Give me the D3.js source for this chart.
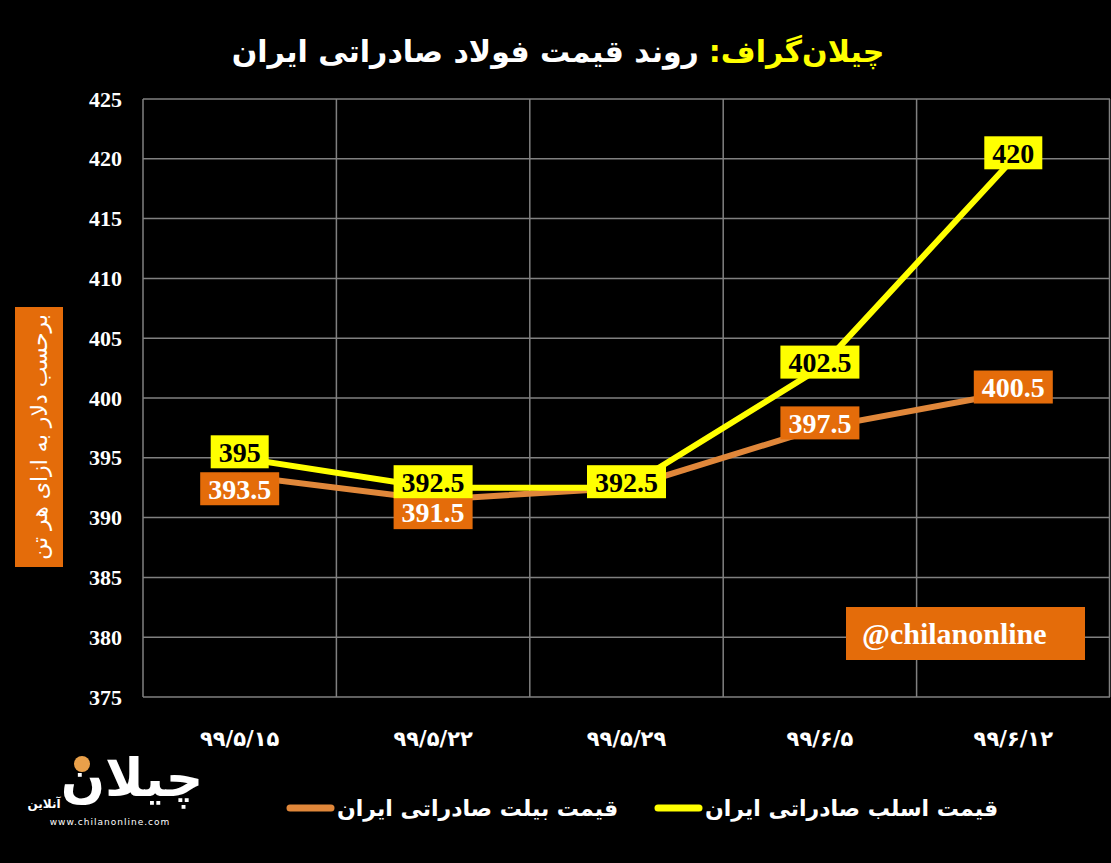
<!DOCTYPE html>
<html>
<head>
<meta charset="utf-8">
<script src="https://cdn.jsdelivr.net/npm/d3@7"></script>
<style>
  html, body { margin: 0; padding: 0; background: #000; }
  svg { display: block; }
</style>
</head>
<body>
<div id="chart"></div>
<script>
// data
const dates = ['۹۹/۵/۱۵', '۹۹/۵/۲۲', '۹۹/۵/۲۹', '۹۹/۶/۵', '۹۹/۶/۱۲'];
const slab = [395, 392.5, 392.5, 402.5, 420];
const billet = [393.5, 391.5, 392.5, 397.5, 400.5];
const yTicks = [375, 380, 385, 390, 395, 400, 405, 410, 415, 420, 425];
const seriesNames = ['قیمت اسلب صادراتی ایران', 'قیمت بیلت صادراتی ایران'];
const titleBrand = 'چیلان‌گراف:';
const titleMain = 'روند قیمت فولاد صادراتی ایران';
const yLabel = 'برحسب دلار به ازای هر تن';
const handle = '@chilanonline';

const W = 1111, H = 863;
const m = { top: 99, right: 1, bottom: 166, left: 143 };
const FA = '"DejaVu Sans", sans-serif';
const SERIF = '"Liberation Serif", "DejaVu Serif", serif';
const ORANGE = '#e46c0a';

const svg = d3.select('#chart').append('svg')
  .attr('width', W).attr('height', H)
  .style('background', '#000');

const x = d3.scaleBand().domain(dates).range([m.left, W - m.right]);
const y = d3.scaleLinear().domain([375, 425]).range([H - m.bottom, m.top]);
const cx = (d) => x(d) + x.bandwidth() / 2;

/// grid
const grid = svg.append('g').attr('stroke', '#808080').attr('stroke-width', 1.5);
grid.selectAll('line.h').data(yTicks).enter().append('line')
  .attr('x1', m.left).attr('x2', W - m.right)
  .attr('y1', (d) => y(d)).attr('y2', (d) => y(d));
grid.selectAll('line.v').data(dates.concat([null])).enter().append('line')
  .attr('x1', (d) => d ? x(d) : W - m.right - 0.5)
  .attr('x2', (d) => d ? x(d) : W - m.right - 0.5)
  .attr('y1', m.top).attr('y2', H - m.bottom);

/// y axis labels
const yAxis = svg.append('g')
  .attr('transform', `translate(${m.left},0)`)
  .call(d3.axisLeft(y).tickValues(yTicks).tickSize(0).tickPadding(21));
yAxis.select('.domain').remove();
yAxis.selectAll('text')
  .attr('fill', '#fff')
  .style('font-family', SERIF)
  .style('font-weight', 'bold')
  .style('font-size', '22px');

/// x axis labels
svg.append('g').selectAll('text').data(dates).enter().append('text')
  .attr('x', cx).attr('y', 746)
  .attr('text-anchor', 'middle')
  .attr('fill', '#fff')
  .style('font-family', FA)
  .style('font-weight', 'bold')
  .style('font-size', '21px')
  .text((d) => d);

/// lines
const line = (vals) => d3.line().x((_, i) => cx(dates[i])).y((d) => y(d))(vals);
svg.append('path').attr('d', line(billet))
  .attr('fill', 'none').attr('stroke', '#e0873a').attr('stroke-width', 6);
svg.append('path').attr('d', line(slab))
  .attr('fill', 'none').attr('stroke', '#ffff00').attr('stroke-width', 6);

/// data labels (billet label is hidden where it sits under the slab one)
const drawLabels = (vals, fill, color, dyAt, skip) => {
  const g = svg.append('g');
  vals.forEach((v, i) => {
    if (skip && skip(v, i)) return;
    const lg = g.append('g')
      .attr('transform', `translate(${cx(dates[i])},${y(v) + dyAt(v, i)})`);
    const t = lg.append('text')
      .attr('text-anchor', 'middle')
      .attr('dy', '0.35em')
      .attr('fill', color)
      .style('font-family', SERIF)
      .style('font-weight', 'bold')
      .style('font-size', '28px')
      .text(v);
    const w = t.node().getComputedTextLength() + 16;
    lg.insert('rect', 'text')
      .attr('x', -w / 2).attr('y', -16.5)
      .attr('width', w).attr('height', 33)
      .attr('fill', fill);
  });
};
// push billet label down only where it would run into the slab label
const billetDy = (v, i) => (y(v) - y(slab[i]) < 35 ? 13 : -5);
drawLabels(billet, ORANGE, '#fff', billetDy, (v, i) => v === slab[i]);
drawLabels(slab, '#ffff00', '#000', () => -6);

/// title
const tb = svg.append('text').attr('direction', 'rtl').attr('text-anchor', 'middle')
  .attr('y', 62).attr('fill', '#ffff00')
  .style('font-family', FA).style('font-weight', 'bold').style('font-size', '30px')
  .text(titleBrand);
const tm = svg.append('text').attr('direction', 'rtl').attr('text-anchor', 'middle')
  .attr('y', 62).attr('fill', '#fff')
  .style('font-family', FA).style('font-weight', 'bold').style('font-size', '30px')
  .text(titleMain);
const wb = tb.node().getComputedTextLength();
const wm = tm.node().getComputedTextLength();
const gap = 10, tc = 558, total = wb + gap + wm;
tb.attr('x', tc + total / 2 - wb / 2);
tm.attr('x', tc - total / 2 + wm / 2);

/// y label box
svg.append('rect').attr('x', 15).attr('y', 307).attr('width', 48).attr('height', 260)
  .attr('fill', ORANGE);
svg.append('text')
  .attr('transform', 'translate(39,437) rotate(-90)')
  .attr('direction', 'rtl')
  .attr('text-anchor', 'middle').attr('dy', '0.35em')
  .attr('fill', '#fff')
  .style('font-family', FA).style('font-size', '22px')
  .text(yLabel);

/// handle box
svg.append('rect').attr('x', 846).attr('y', 607).attr('width', 239).attr('height', 53)
  .attr('fill', ORANGE);
svg.append('text').attr('x', 862).attr('y', 644)
  .attr('fill', '#fff')
  .style('font-family', SERIF).style('font-weight', 'bold').style('font-size', '30px')
  .text(handle);

/// legend
const legend = [
  { name: seriesNames[0], color: '#ffff00', x0: 655 },
  { name: seriesNames[1], color: '#e0873a', x0: 287 },
];
legend.forEach((d) => {
  svg.append('line').attr('x1', d.x0 + 3).attr('x2', d.x0 + 44)
    .attr('y1', 808).attr('y2', 808)
    .attr('stroke', d.color).attr('stroke-width', 7).attr('stroke-linecap', 'round');
  const t = svg.append('text').attr('direction', 'rtl').attr('text-anchor', 'middle')
    .attr('y', 816).attr('fill', '#fff')
    .style('font-family', FA).style('font-weight', 'bold').style('font-size', '22px')
    .text(d.name);
  const w = t.node().getComputedTextLength();
  t.attr('x', d.x0 + 50 + w / 2);
});

/// logo (approximate)
const logo = svg.append('g');
logo.append('text').attr('x', 132).attr('y', 796).attr('text-anchor', 'middle')
  .attr('fill', '#fff').style('font-family', FA).style('font-weight', 'bold')
  .style('font-size', '52px').text('چیلان');
logo.append('circle').attr('cx', 82).attr('cy', 764).attr('r', 8).attr('fill', '#e9a04a');
logo.append('text').attr('x', 44).attr('y', 808).attr('text-anchor', 'middle')
  .attr('fill', '#fff').style('font-family', FA).style('font-weight', 'bold')
  .style('font-size', '12px').text('آنلاین');
logo.append('text').attr('x', 110).attr('y', 825).attr('text-anchor', 'middle')
  .attr('fill', '#fff').style('font-family', FA)
  .style('font-size', '9px').style('letter-spacing', '1px').text('www.chilanonline.com');
</script>
</body>
</html>
